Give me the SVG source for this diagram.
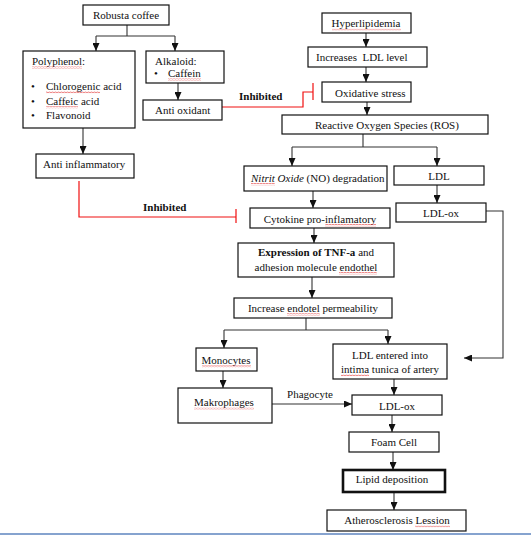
<svg xmlns="http://www.w3.org/2000/svg" width="531" height="536" viewBox="0 0 531 536">
<style>
  .box { fill: #fff; stroke: #111; stroke-width: 1.2; }
  .thick { stroke-width: 2.6; }
  .t { font-family: "Liberation Serif", "Times New Roman", "DejaVu Serif", serif; font-size: 11px; fill: #111; }
  .c { text-anchor: middle; }
  .b { font-weight: bold; }
  .ln { fill: none; stroke: #333; stroke-width: 1.1; }
  .red { fill: none; stroke: #f01010; stroke-width: 1.2; }
  .sq { fill: url(#wave); }
</style>
<defs>
  <marker id="ah" markerUnits="userSpaceOnUse" markerWidth="8" markerHeight="7" refX="8" refY="3.5" orient="auto">
    <path d="M0,0 L8,3.5 L0,7 z" fill="#111"/>
  </marker>
  <pattern id="wave" patternUnits="userSpaceOnUse" width="3" height="2.4">
    <path d="M0,1.8 L1.5,0.6 L3,1.8" fill="none" stroke="#e02020" stroke-width="0.7"/>
  </pattern>
</defs>
<rect width="531" height="536" fill="#fff"/>
<rect x="0" y="533" width="531" height="2" fill="#86a3cf"/>

<g id="connectors">
  <path class="ln" d="M127,25 V36 M96,36 H175"/>
  <path class="ln" d="M96,36 V51" marker-end="url(#ah)"/>
  <path class="ln" d="M175,36 V51" marker-end="url(#ah)"/>
  <path class="ln" d="M178,83 V100" marker-end="url(#ah)"/>
  <path class="ln" d="M83,128 V154" marker-end="url(#ah)"/>
  <path class="ln" d="M366,33 V47" marker-end="url(#ah)"/>
  <path class="ln" d="M366,67 V82" marker-end="url(#ah)"/>
  <path class="ln" d="M367,102 V115" marker-end="url(#ah)"/>
  <path class="ln" d="M363,134 V147 M292,147 H437"/>
  <path class="ln" d="M292,147 V166" marker-end="url(#ah)"/>
  <path class="ln" d="M437,147 V166" marker-end="url(#ah)"/>
  <path class="ln" d="M313,191 V208" marker-end="url(#ah)"/>
  <path class="ln" d="M314,228 V243" marker-end="url(#ah)"/>
  <path class="ln" d="M312,277 V298" marker-end="url(#ah)"/>
  <path class="ln" d="M306,318 V330 M224,330 H388"/>
  <path class="ln" d="M224,330 V348" marker-end="url(#ah)"/>
  <path class="ln" d="M388,330 V344" marker-end="url(#ah)"/>
  <path class="ln" d="M437,185 V203" marker-end="url(#ah)"/>
  <path class="ln" d="M486,211 H503 V358 H464" marker-end="url(#ah)"/>
  <path class="ln" d="M223,371 V388" marker-end="url(#ah)"/>
  <path class="ln" d="M272,404 H352" marker-end="url(#ah)"/>
  <path class="ln" d="M394,379 V395" marker-end="url(#ah)"/>
  <path class="ln" d="M392,415 V432" marker-end="url(#ah)"/>
  <path class="ln" d="M393,452 V470" marker-end="url(#ah)"/>
  <path class="ln" d="M394,492 V510" marker-end="url(#ah)"/>
  <path class="red" d="M222,107 H303 V92 H313 M313,83 V100"/>
  <path class="red" d="M79,181 V217 H236 M236,209 V223"/>
  <text class="t b" x="239" y="100">Inhibited</text>
  <text class="t b" x="143" y="211">Inhibited</text>
  <text class="t c" x="310" y="398">Phagocyte</text>
</g>

<g id="robusta"><rect class="box" x="83" y="5" width="86" height="20"/><text class="t c" x="126" y="19">Robusta coffee</text></g>
<g id="polyphenol"><rect class="box" x="23" y="51" width="112" height="77"/>
  <text class="t" x="32" y="65">Polyphenol:</text>
  <text class="t" x="31" y="90">•</text><text class="t" x="46" y="90">Chlorogenic acid</text>
  <text class="t" x="31" y="105">•</text><text class="t" x="46" y="105">Caffeic acid</text>
  <text class="t" x="31" y="119">•</text><text class="t" x="46" y="119">Flavonoid</text>
  <rect class="sq" x="32" y="66" width="50" height="2.4"/>
  <rect class="sq" x="46" y="91" width="54" height="2.4"/>
  <rect class="sq" x="46" y="106" width="32" height="2.4"/>
</g>
<g id="alkaloid"><rect class="box" x="146" y="51" width="78" height="32"/>
  <text class="t" x="155" y="65">Alkaloid:</text>
  <text class="t" x="154" y="77">•</text><text class="t" x="168" y="77">Caffein</text>
  <rect class="sq" x="168" y="78" width="33" height="2.4"/>
</g>
<g id="antioxidant"><rect class="box" x="143" y="100" width="79" height="20"/><text class="t" x="155" y="114">Anti oxidant</text></g>
<g id="hyperlipidemia"><rect class="box" x="322" y="13" width="89" height="20"/><text class="t c" x="366" y="27">Hyperlipidemia</text>
  <rect class="sq" x="332" y="28" width="69" height="2.4"/></g>
<g id="increasesldl"><rect class="box" x="308" y="47" width="119" height="20"/><text class="t" x="316" y="61" xml:space="preserve">Increases  LDL level</text></g>
<g id="oxidative"><rect class="box" x="322" y="82" width="89" height="20"/><text class="t" x="335" y="97">Oxidative stress</text></g>
<g id="ros"><rect class="box" x="282" y="115" width="206" height="19"/><text class="t" x="315" y="129">Reactive Oxygen Species (ROS)</text></g>
<g id="antiinflammatory"><rect class="box" x="36" y="154" width="98" height="24"/><text class="t" x="43" y="168">Anti inflammatory</text></g>
<g id="nitrit"><rect class="box" x="244" y="166" width="143" height="25"/>
  <text class="t" x="251" y="182"><tspan font-style="italic">Nitrit Oxide</tspan> (NO) degradation</text>
  <rect class="sq" x="251" y="183" width="24" height="2.4"/></g>
<g id="ldl"><rect class="box" x="394" y="166" width="90" height="19"/><text class="t c" x="439" y="180">LDL</text></g>
<g id="ldlox1"><rect class="box" x="396" y="203" width="90" height="19"/><text class="t c" x="441" y="217">LDL-ox</text></g>
<g id="cytokine"><rect class="box" x="250" y="208" width="140" height="20"/><text class="t c" x="320" y="223">Cytokine pro-inflamatory</text>
  <rect class="sq" x="325" y="224" width="51" height="2.4"/></g>
<g id="expression"><rect class="box" x="238" y="243" width="156" height="34"/>
  <text class="t c" x="316" y="256"><tspan class="b">Expression of TNF-a</tspan> and</text>
  <text class="t c" x="316" y="271">adhesion molecule endothel</text>
  <rect class="sq" x="339" y="272" width="38" height="2.4"/></g>
<g id="permeability"><rect class="box" x="234" y="298" width="158" height="20"/><text class="t c" x="313" y="312">Increase endotel permeability</text>
  <rect class="sq" x="287" y="313" width="33" height="2.4"/></g>
<g id="monocytes"><rect class="box" x="196" y="348" width="61" height="23"/><text class="t c" x="226" y="364">Monocytes</text>
  <rect class="sq" x="202" y="365" width="49" height="2.4"/></g>
<g id="ldlentered"><rect class="box" x="333" y="344" width="114" height="35"/>
  <text class="t c" x="390" y="359">LDL entered into</text>
  <text class="t c" x="390" y="373">intima tunica of artery</text>
  <rect class="sq" x="341" y="374" width="28" height="2.4"/></g>
<g id="makrophages"><rect class="box" x="178" y="388" width="94" height="35"/><text class="t" x="194" y="406">Makrophages</text>
  <rect class="sq" x="194" y="407" width="60" height="2.4"/></g>
<g id="ldlox2"><rect class="box" x="352" y="395" width="90" height="20"/><text class="t c" x="397" y="410">LDL-ox</text></g>
<g id="foamcell"><rect class="box" x="349" y="432" width="90" height="20"/><text class="t c" x="394" y="446">Foam Cell</text></g>
<g id="lipid"><rect class="box thick" x="343" y="470" width="102" height="22"/><text class="t c" x="392" y="483">Lipid deposition</text></g>
<g id="athero"><rect class="box" x="327" y="510" width="139" height="21"/><text class="t c" x="397" y="524">Atherosclerosis Lession</text>
  <rect class="sq" x="415" y="525" width="35" height="2.4"/></g>
</svg>
